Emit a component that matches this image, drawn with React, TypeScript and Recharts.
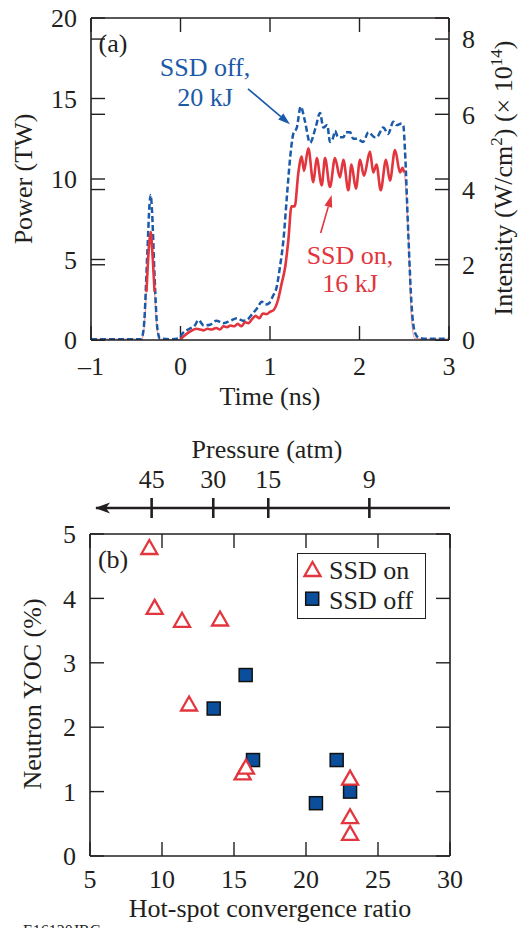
import {
  LineChart, Line, XAxis, YAxis, ReferenceDot, ReferenceLine,
  ScatterChart, Scatter, Legend,
} from "recharts";

const INK = "#231f20";
const RED = "#e2353d";
const PINK = "#f2a2a5";
const BLUE = "#1a5aa8";
const SQUARE = "#0b4f9c";
const FONT = "Liberation Serif";
const FS = 26;
const TICK = 14;

// (a) pulse shapes
const timeTicks = [-1, 0, 1, 2, 3];
const powerTicks = [0, 5, 10, 15, 20];
const intensityTicks = [0, 2, 4, 6, 8];

const ssdOnTime = [
  -1, -0.44, -0.416, -0.38, -0.35, -0.333, -0.315, -0.29, -0.26, -0.24, -0.05,
  0, 0.05, 0.1, 0.18, 0.22, 0.26, 0.3, 0.35, 0.4, 0.44, 0.48, 0.52, 0.56, 0.6,
  0.64, 0.68, 0.72, 0.76, 0.8, 0.84, 0.88, 0.92, 0.96, 1.0, 1.04, 1.09, 1.13,
  1.17, 1.205, 1.24, 1.276, 1.316, 1.354, 1.38, 1.428, 1.484, 1.522, 1.578,
  1.615, 1.67, 1.726, 1.782, 1.82, 1.875, 1.91, 1.96, 2.006, 2.05, 2.117, 2.154,
  2.19, 2.237, 2.296, 2.34, 2.397, 2.453, 2.48, 2.5, 2.545, 2.58, 2.617, 2.7, 3,
];
const ssdOnPower = [
  0.05, 0.05, 0.3, 3.0, 6.0, 6.7, 5.5, 3.0, 0.6, 0.05, 0,
  0.05, 0.3, 0.5, 0.7, 0.65, 0.6, 0.7, 0.65, 0.75, 0.65, 0.85, 0.8, 0.9, 0.85,
  1.0, 0.85, 1.1, 1.05, 1.3, 1.5, 1.35, 1.65, 1.6, 1.75, 1.86, 2.5, 3.5,
  4.55, 6.2, 8.3, 8.3, 10.35, 11.4, 10.5, 11.9, 9.8, 11.3, 9.6,
  11.3, 9.5, 11.3, 10.1, 11.2, 9.3, 10.9, 9.4, 11.2, 10.2, 11.7, 10.4,
  10.9, 9.3, 11.2, 9.9, 11.8, 10.4, 10.7, 10.4, 6.6, 1.4, 0.1, 0.05, 0.05,
];

const ssdOffTime = [
  -1, -0.6, -0.44, -0.41, -0.37, -0.345, -0.333, -0.32, -0.29, -0.26, -0.23,
  -0.1, -0.02, 0.03, 0.1, 0.16, 0.2, 0.26, 0.33, 0.4, 0.48, 0.56, 0.63, 0.7,
  0.74, 0.8, 0.86, 0.907, 0.95, 0.99, 1.03, 1.075, 1.11, 1.15, 1.19, 1.223,
  1.26, 1.3, 1.343, 1.39, 1.447, 1.51, 1.559, 1.596, 1.64, 1.67, 1.707, 1.726,
  1.76, 1.82, 1.85, 1.895, 1.93, 1.97, 2.04, 2.1, 2.17, 2.192, 2.266, 2.32,
  2.378, 2.415, 2.47, 2.49, 2.508, 2.545, 2.583, 2.62, 2.66, 2.75, 3,
];
const ssdOffPower = [
  0.05, 0.05, 0.05, 0.8, 5.5, 8.5, 9.0, 8.2, 4.0, 0.8, 0.1,
  0.05, 0.1, 0.45, 0.7, 0.9, 1.24, 0.9, 0.95, 1.2, 1.04, 1.2, 1.35, 1.2,
  1.24, 1.6, 2.0, 2.38, 2.2, 2.28, 2.7, 3.3, 4.5, 6.2, 9.0, 11.2,
  12.8, 13.2, 14.5, 13.6, 12.25, 13.2, 14.1, 13.2, 13.35, 12.3, 12.6, 13.0,
  12.6, 12.6, 12.9, 12.9, 12.5, 12.5, 12.3, 12.9, 12.6, 12.6, 13.2, 12.8,
  13.56, 13.35, 13.45, 13.3, 11.8, 6.6, 2.07, 0.45, 0.15, 0.08, 0.08,
];

// (b) neutron yield vs convergence
const crTicks = [5, 10, 15, 20, 25, 30];
const yocTicks = [0, 1, 2, 3, 4, 5];
const pressureLabels = [45, 30, 15, 9];
const pressureAtCr = [9.28, 13.56, 17.38, 24.4];

const ssdOnCr = [9.12, 9.49, 11.39, 14.03, 11.88, 15.6, 15.83, 23.06, 23.06, 23.06];
const ssdOnYoc = [4.79, 3.86, 3.66, 3.68, 2.36, 1.29, 1.38, 1.21, 0.61, 0.35];
const ssdOffCr = [15.81, 13.59, 16.32, 22.13, 23.06, 20.69];
const ssdOffYoc = [2.81, 2.29, 1.49, 1.49, 1.0, 0.82];

const onSeries = ssdOnTime.map((t, i) => ({ t, p: ssdOnPower[i] }));
// the heavy trace is drawn over the prepulse crest and the main drive only
const onHeavy = onSeries.map((d) => ({
  t: d.t,
  p: (d.t >= -0.38 && d.t <= -0.29) || (d.t >= 0 && d.t <= 2.5) ? d.p : null,
}));
const offSeries = ssdOffTime.map((t, i) => ({ t, p: ssdOffPower[i] }));
const onPoints = ssdOnCr.map((x, i) => ({ x, y: ssdOnYoc[i] }));
const offPoints = ssdOffCr.map((x, i) => ({ x, y: ssdOffYoc[i] }));

const frame = { stroke: INK, strokeWidth: 1.6 };
const tickText = { fontSize: FS, fill: INK, fontFamily: FONT };

// inward tick marks on both frame edges, drawn from a full-height/width reference line
const vTicks = (p: any) => {
  const top = Math.min(p.y1, p.y2), bot = Math.max(p.y1, p.y2);
  return (
    <g>
      <line x1={p.x1} x2={p.x1} y1={top} y2={top + TICK} stroke={INK} strokeWidth={1.4} />
      <line x1={p.x1} x2={p.x1} y1={bot - TICK} y2={bot} stroke={INK} strokeWidth={1.4} />
    </g>
  );
};
const hTicks = (p: any) => {
  const l = Math.min(p.x1, p.x2), r = Math.max(p.x1, p.x2);
  return (
    <g>
      <line x1={l} x2={l + TICK} y1={p.y1} y2={p.y1} stroke={INK} strokeWidth={1.4} />
      <line x1={r - TICK} x2={r} y1={p.y1} y2={p.y1} stroke={INK} strokeWidth={1.4} />
    </g>
  );
};
// pressure scale sits 26px above the plot frame
const pressureTick = (label: number) => (p: any) => {
  const top = Math.min(p.y1, p.y2) - 26;
  return (
    <g>
      <line x1={p.x1} x2={p.x1} y1={top - 10} y2={top + 10} stroke={INK} strokeWidth={2.6} />
      <text x={p.x1} y={top - 20} textAnchor="middle" fontSize={FS} fill={INK} fontFamily={FONT}>{label}</text>
    </g>
  );
};

const vTitle = (text: string, x: number, y: number) => () => (
  <text x={x} y={y} transform={`rotate(-90, ${x}, ${y})`} textAnchor="middle"
    fontSize={FS} fill={INK} fontFamily={FONT}>{text}</text>
);
const hTitle = (text: string, x: number, y: number) => () => (
  <text x={x} y={y} textAnchor="middle" fontSize={FS} fill={INK} fontFamily={FONT}>{text}</text>
);

const intensityTitle = () => (
  <text x={512} y={178} transform="rotate(-90, 512, 178)" textAnchor="middle"
    fontSize={FS} fill={INK} fontFamily={FONT}>
    Intensity (W/cm<tspan dy={-10} fontSize={17}>2</tspan>
    <tspan dy={10}>) (× 10</tspan>
    <tspan dy={-10} fontSize={17}>14</tspan>
    <tspan dy={10}>)</tspan>
  </text>
);

const arrowShape = (color: string) => (p: any) => {
  const { x1, y1, x2, y2 } = p;
  const a = Math.atan2(y2 - y1, x2 - x1);
  const L = 12, W = 4;
  const bx = x2 - L * Math.cos(a), by = y2 - L * Math.sin(a);
  const head = `${x2},${y2} ${bx - W * Math.sin(a)},${by + W * Math.cos(a)} ${bx + W * Math.sin(a)},${by - W * Math.cos(a)}`;
  return (
    <g>
      <line x1={x1} y1={y1} x2={bx} y2={by} stroke={color} strokeWidth={1.6} />
      <polygon points={head} fill={color} />
    </g>
  );
};

const note = (value: string, fill: string) => ({
  value, position: "center" as const, fill, fontSize: FS, fontFamily: FONT,
});

const Triangle = (p: any) => {
  const { cx, cy } = p;
  return (
    <path d={`M${cx},${cy - 7.5} L${cx + 8},${cy + 6.5} L${cx - 8},${cy + 6.5} Z`}
      fill="#fff" stroke={RED} strokeWidth={2.3} />
  );
};
const Square = (p: any) => {
  const { cx, cy } = p;
  return <rect x={cx - 6.5} y={cy - 6.5} width={13} height={13} fill={SQUARE} stroke="#111" strokeWidth={1.5} />;
};

const legendBox = () => (
  <div style={{ position: "relative", width: 129, height: 66, boxSizing: "border-box", border: `1.6px solid ${INK}`, background: "#fff" }}>
    <svg width={129} height={66} style={{ position: "absolute", left: -1.6, top: -1.6 }}>
      <Triangle cx={16.5} cy={17.5} />
      <Square cx={16.2} cy={46.7} />
      <text x={33} y={27} fontSize={FS} fill={INK} fontFamily={FONT}>SSD on</text>
      <text x={33} y={57} fontSize={FS} fill={INK} fontFamily={FONT}>SSD off</text>
    </svg>
  </div>
);

function PulsePanel() {
  return (
    <LineChart width={518} height={420} margin={{ top: 17, right: 0, bottom: 0, left: 0 }}>
      <XAxis xAxisId="frame" orientation="top" type="number" domain={[-1, 3]} allowDataOverflow
        height={1} tick={false} tickLine={false} axisLine={frame} />
      <XAxis xAxisId="t" dataKey="t" type="number" domain={[-1, 3]} allowDataOverflow ticks={timeTicks} interval={0}
        height={80} tickSize={0} tickMargin={17} axisLine={frame} tickLine={false} tick={tickText}
        tickFormatter={(v: number) => (v < 0 ? `–${-v}` : `${v}`)}
        label={hTitle("Time (ns)", 270, 405)} />
      <YAxis yAxisId="p" type="number" domain={[0, 20]} allowDataOverflow ticks={powerTicks} interval={0} width={91}
        tickSize={0} tickMargin={14} axisLine={frame} tickLine={false} tick={tickText}
        label={vTitle("Power (TW)", 32, 179)} />
      <YAxis yAxisId="i" orientation="right" type="number" domain={[0, 8.56]} allowDataOverflow ticks={intensityTicks}
        interval={0} width={69} tickSize={0} tickMargin={13} axisLine={frame} tickLine={false}
        tick={tickText} label={intensityTitle} />
      {timeTicks.map((v) => (
        <ReferenceLine key={`t${v}`} xAxisId="t" yAxisId="p" x={v} ifOverflow="visible" shape={vTicks} />
      ))}
      {powerTicks.map((v) => (
        <ReferenceLine key={`p${v}`} xAxisId="t" yAxisId="p" y={v} ifOverflow="visible" shape={hTicks} />
      ))}
      {intensityTicks.map((v) => (
        <ReferenceLine key={`i${v}`} xAxisId="t" yAxisId="i" y={v} ifOverflow="visible" shape={hTicks} />
      ))}
      <Line xAxisId="t" yAxisId="p" data={onSeries} dataKey="p" type="monotone" stroke={PINK}
        strokeWidth={1.3} dot={false} activeDot={false} isAnimationActive={false} />
      <Line xAxisId="t" yAxisId="p" data={offSeries} dataKey="p" type="monotone" stroke={BLUE}
        strokeWidth={2.5} strokeDasharray="6 3" dot={false} activeDot={false} isAnimationActive={false} />
      <Line xAxisId="t" yAxisId="p" data={onHeavy} dataKey="p" type="monotone" stroke={RED}
        strokeWidth={2.6} dot={false} activeDot={false} isAnimationActive={false} />
      <ReferenceDot xAxisId="t" yAxisId="p" x={-0.754} y={18.45} r={0} stroke="none" label={note("(a)", INK)} />
      <ReferenceDot xAxisId="t" yAxisId="p" x={0.274} y={16.96} r={0} stroke="none" label={note("SSD off,", BLUE)} />
      <ReferenceDot xAxisId="t" yAxisId="p" x={0.274} y={15.1} r={0} stroke="none" label={note("20 kJ", BLUE)} />
      <ReferenceDot xAxisId="t" yAxisId="p" x={1.894} y={5.28} r={0} stroke="none" label={note("SSD on,", RED)} />
      <ReferenceDot xAxisId="t" yAxisId="p" x={1.894} y={3.54} r={0} stroke="none" label={note("16 kJ", RED)} />
      <ReferenceLine xAxisId="t" yAxisId="p" segment={[{ x: 0.754, y: 15.6 }, { x: 1.223, y: 13.4 }]}
        shape={arrowShape(BLUE)} />
      <ReferenceLine xAxisId="t" yAxisId="p" segment={[{ x: 1.566, y: 6.65 }, { x: 1.689, y: 9.0 }]}
        shape={arrowShape(RED)} />
    </LineChart>
  );
}

function YieldPanel() {
  return (
    <ScatterChart width={518} height={520} margin={{ top: 0, right: 0, bottom: 0, left: 0 }}>
      <XAxis xAxisId="frame" orientation="top" type="number" domain={[5, 30]} allowDataOverflow
        height={26} tick={false} tickLine={false} axisLine={frame} />
      <XAxis xAxisId="pressure" orientation="top" type="number" domain={[5, 30]} allowDataOverflow
        height={88} tick={false} tickLine={false}
        axisLine={{ stroke: INK, strokeWidth: 2.6, markerStart: "url(#pressureArrow)", strokeDasharray: "0 6 1000" }}
        label={hTitle("Pressure (atm)", 267, 38)} />
      <XAxis xAxisId="x" dataKey="x" type="number" domain={[5, 30]} allowDataOverflow ticks={crTicks} interval={0}
        height={84} tickSize={0} tickMargin={14} axisLine={frame} tickLine={false} tick={tickText}
        label={() => (
          <g>
            <text x={270} y={497} textAnchor="middle" fontSize={FS} fill={INK} fontFamily={FONT}>
              Hot-spot convergence ratio
            </text>
            <text x={23} y={516} fontSize={16} fill={INK} fontFamily={FONT}>E16120JRC</text>
          </g>
        )} />
      <YAxis yAxisId="y" dataKey="y" type="number" domain={[0, 5]} allowDataOverflow ticks={yocTicks} interval={0}
        width={90} tickSize={0} tickMargin={14} axisLine={frame} tickLine={false} tick={tickText}
        label={vTitle("Neutron YOC (%)", 41, 274)} />
      <YAxis yAxisId="r" orientation="right" type="number" domain={[0, 5]} allowDataOverflow
        width={68} tick={false} tickLine={false} axisLine={frame} />
      {crTicks.map((v) => (
        <ReferenceLine key={`c${v}`} xAxisId="x" yAxisId="y" x={v} ifOverflow="visible" shape={vTicks} />
      ))}
      {yocTicks.map((v) => (
        <ReferenceLine key={`y${v}`} xAxisId="x" yAxisId="y" y={v} ifOverflow="visible" shape={hTicks} />
      ))}
      {pressureAtCr.map((v, i) => (
        <ReferenceLine key={`atm${v}`} xAxisId="x" yAxisId="y" x={v} shape={pressureTick(pressureLabels[i])} />
      ))}
      <Legend layout="horizontal" verticalAlign="middle" align="center" content={legendBox}
        wrapperStyle={{ left: 297, top: 133, width: 129, height: 66 }} />
      <Scatter name="SSD off" xAxisId="x" yAxisId="y" data={offPoints} shape={Square} isAnimationActive={false} />
      <Scatter name="SSD on" xAxisId="x" yAxisId="y" data={onPoints} shape={Triangle} isAnimationActive={false} />
      <ReferenceDot xAxisId="x" yAxisId="y" x={6.6} y={4.61} r={0} stroke="none" label={note("(b)", INK)} />
    </ScatterChart>
  );
}

export default function App() {
  return (
    <div style={{ position: "absolute", left: 0, top: 0, width: 518, height: 928, overflow: "hidden", background: "#fff", fontFamily: FONT }}>
      <svg width={0} height={0} style={{ position: "absolute" }}>
        <defs>
          <marker id="pressureArrow" markerUnits="userSpaceOnUse" markerWidth={16} markerHeight={12}
            refX={20} refY={6} orient="auto-start-reverse" overflow="visible">
            <path d="M0,0.5 L15,6 L0,11.5 L4,6 Z" fill={INK} />
          </marker>
        </defs>
      </svg>
      <div style={{ position: "absolute", left: 0, top: 0 }}>
        <PulsePanel />
      </div>
      <div style={{ position: "absolute", left: 0, top: 420 }}>
        <YieldPanel />
      </div>
    </div>
  );
}
